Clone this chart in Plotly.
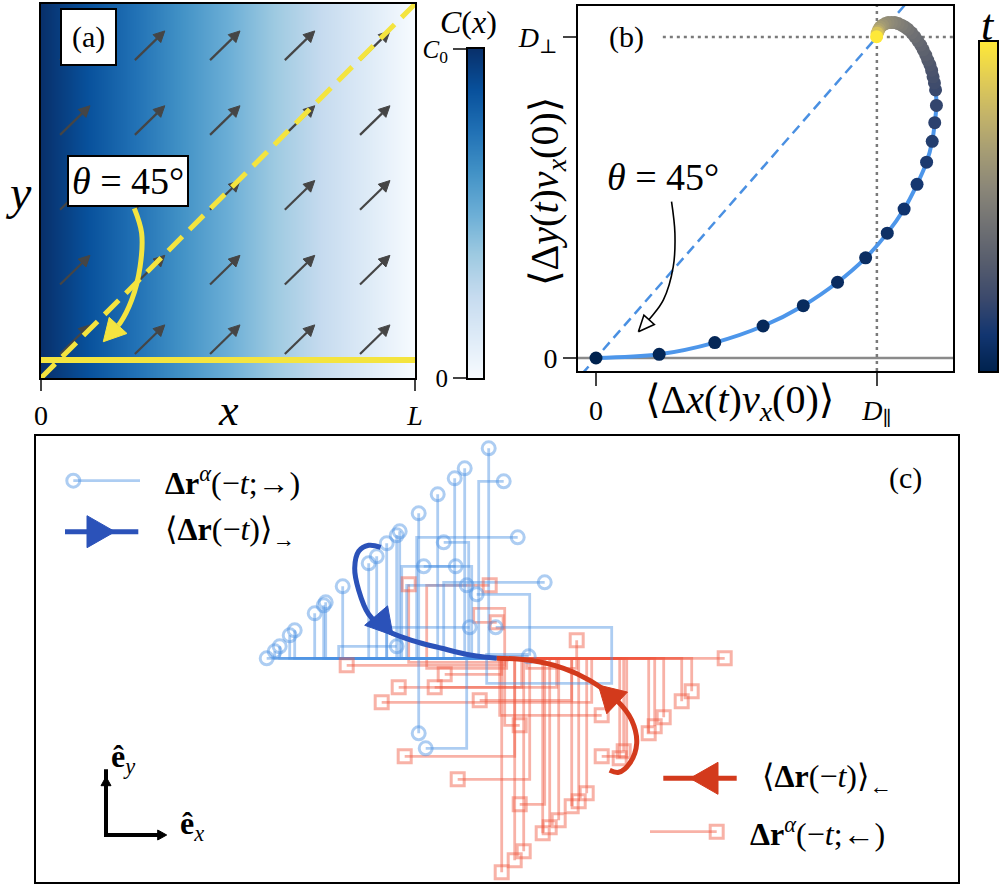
import math
import plotly.graph_objects as go

W, H = 1001, 887
FONT = "Liberation Serif, DejaVu Serif, serif"

# ----------------------------------------------------------------- data
# panel (a): concentration field C(x) = C0 (1 - x/L)
conc_x = [0.0, 1.0]
conc_c = [1.0, 0.0]
cbar_a_levels = [0.0, 1.0]
quiver_x = [0.051, 0.251, 0.452, 0.652, 0.853]
quiver_y = [0.850, 0.650, 0.450, 0.250, 0.064]
quiver_u = 0.080
quiver_v = 0.078
ref_line_y = 0.048
diag_x = [0.0, 1.0]
diag_y = [0.0, 1.0]
theta_a_x = [0.2495, 0.269, 0.265, 0.2425, 0.211, 0.1666]
theta_a_y = [0.4537, 0.388, 0.298, 0.2086, 0.146, 0.097]

# panel (b): correlation curve (units of D_par, D_perp), coloured by t
corr_x = [0.0, 0.225, 0.423, 0.595, 0.738, 0.860, 0.960, 1.037, 1.097, 1.143,
          1.177, 1.197, 1.206, 1.212, 1.209, 1.205, 1.200, 1.195, 1.189, 1.181,
          1.174, 1.165, 1.156, 1.146, 1.135, 1.124, 1.111, 1.100, 1.088, 1.076,
          1.064, 1.052, 1.040, 1.030, 1.020, 1.012, 1.007, 1.004, 1.001, 0.999]
corr_y = [0.0, 0.0115, 0.048, 0.0997, 0.163, 0.236, 0.312, 0.389, 0.464, 0.541,
          0.610, 0.675, 0.733, 0.787, 0.835, 0.857, 0.876, 0.896, 0.913, 0.928,
          0.944, 0.960, 0.975, 0.988, 1.001, 1.013, 1.024, 1.031, 1.037, 1.042,
          1.045, 1.045, 1.045, 1.042, 1.037, 1.031, 1.024, 1.017, 1.012, 1.001]
corr_t = [0.00, 0.02, 0.03, 0.04, 0.05, 0.06, 0.07, 0.08, 0.10, 0.12,
          0.14, 0.16, 0.18, 0.20, 0.22, 0.24, 0.26, 0.28, 0.30, 0.32,
          0.34, 0.36, 0.38, 0.40, 0.42, 0.44, 0.46, 0.48, 0.50, 0.52,
          0.54, 0.56, 0.58, 0.60, 0.63, 0.66, 0.70, 0.76, 0.85, 1.00]
cbar_b_levels = [0.0, 1.0]
theta_b_x = [0.269, 0.281, 0.275, 0.240, 0.198, 0.165]
theta_b_y = [0.487, 0.389, 0.284, 0.181, 0.129, 0.097]

# panel (c): backward trajectories (units of 10 px)
blue_tips = [(-23.0, 0.0), (-22.2, 0.7), (-21.7, 1.2), (-20.7, 2.3), (-20.2, 2.8),
             (-18.2, 4.5), (-17.3, 5.3), (-17.1, 5.6), (-15.4, 7.2), (-12.8, 9.5),
             (-12.0, 10.2), (-11.0, 11.5), (-10.0, 12.3), (-9.7, 12.7), (-7.8, 14.5),
             (-5.9, 16.4), (-4.2, 18.0), (-3.2, 19.0), (-0.8, 21.0)]
blue_walks = [
    [(0, 0), (-1.8, 0), (-1.8, 17.7), (0.7, 17.7)],
    [(0, 0), (-8.0, 0), (-8.0, 12.1), (2.1, 12.1)],
    [(0, 0), (-5.3, 0), (-5.3, 7.6), (4.8, 7.6)],
    [(0, 0), (-2.8, 0), (-2.8, 11.6), (-5.3, 11.6)],
    [(0, 0), (-2.5, 0), (-2.5, 9.2), (-7.3, 9.2)],
    [(0, 0), (-9.5, 0), (-9.5, 9.2), (-4.1, 9.2)],
    [(0, 0), (-9.0, 0), (-9.0, 7.3), (-3.0, 7.3)],
    [(0, 0), (-1.0, 0), (-1.0, 0.4), (3.3, 0.4), (3.3, 6.4), (-2.0, 6.4)],
    [(0, 0), (-11.0, 0), (-11.0, 3.1), (-2.7, 3.1)],
    [(0, 0), (-1.0, 0), (-1.0, -2.5), (11.5, -2.5), (11.5, 3.1), (-0.1, 3.1)],
    [(0, 0), (-15.8, 0), (-15.8, 1.2), (-10.0, 1.2)],
    [(0, 0), (-7.8, 0), (-7.8, -7.5)],
    [(0, 0), (-3.0, 0), (-3.0, -9.0), (-7.1, -9.0)],
    [(0, 0), (-2.0, 0), (-2.0, 0.2), (3.2, 0.2)],
]
red_tips = [(22.8, 0.0), (19.5, -3.3), (18.5, -4.3), (16.7, -5.9), (15.8, -6.8),
            (15.2, -7.5), (12.7, -9.3), (12.3, -10.0), (9.0, -13.5), (8.2, -14.3),
            (7.5, -14.8), (6.2, -16.2), (5.3, -16.9), (4.6, -17.5), (2.7, -19.3),
            (1.8, -20.2), (0.5, -21.4)]
red_walks = [
    [(0, 0), (0.8, 0), (0.8, -0.7), (-15.0, -0.7)],
    [(0, 0), (6.0, 0), (6.0, -2.9), (-9.8, -2.9)],
    [(0, 0), (9.5, 0), (9.5, -4.4), (-11.5, -4.4)],
    [(0, 0), (0.5, 0), (0.5, -1.6), (-5.2, -1.6)],
    [(0, 0), (2.5, 0), (2.5, -2.9), (-6.2, -2.9)],
    [(0, 0), (7.5, 0), (7.5, -4.2), (-1.7, -4.2)],
    [(0, 0), (0.8, 0), (0.8, -6.7), (2.3, -6.7)],
    [(0, 0), (1.8, 0), (1.8, -9.8), (-9.2, -9.8)],
    [(0, 0), (3.3, 0), (3.3, -12.1), (-3.9, -12.1)],
    [(0, 0), (4.8, 0), (4.8, -14.6), (2.3, -14.6)],
    [(0, 0), (13.0, 0), (13.0, -9.8), (10.5, -9.8)],
    [(0, 0), (0.3, 0), (0.3, -5.7), (10.5, -5.7)],
    [(0, 0), (3.0, 0), (3.0, -1.0), (8.0, -1.0), (8.0, 1.8)],
    [(0, 0), (0.5, 0), (0.5, -0.4), (-8.8, -0.4), (-8.8, 7.4)],
    [(0, 0), (1.0, 0), (1.0, -1.0), (-7.0, -1.0), (-7.0, 7.3), (-0.7, 7.3)],
    [(0, 0), (0.8, 0), (0.8, 5.0), (-2.3, 5.0), (-2.3, 3.6), (0.0, 3.6)],
]
blue_mean_x = [0.0, -2.5, -5.5, -8.5, -11.0, -12.8, -13.8, -14.2, -13.8, -12.8, -11.6]
blue_mean_y = [0.0, 0.3, 1.0, 1.8, 2.8, 4.4, 6.8, 9.0, 10.7, 11.3, 11.1]
red_mean_x = [11.3, 12.2, 13.3, 14.0, 13.5, 12.0, 9.3, 6.7, 3.3, 0.0]
red_mean_y = [-11.2, -11.4, -10.5, -8.5, -6.2, -4.2, -2.2, -1.0, -0.2, 0.0]

# ----------------------------------------------------------------- geometry
BOX_A = (41, 415, 4, 378)
BOX_ACB = (468, 483, 49, 378)
BOX_B = (578, 953, 6, 371)
BOX_BCB = (980, 997, 42, 371)
BOX_C = (36, 958, 436, 882)
RA_X, RA_Y = [0, 1], [0, 1]
RB_X, RB_Y = [-0.064, 1.271], [-0.0405, 1.0966]
RC_X, RC_Y = [-46.07, 46.13], [-22.37, 22.23]


def dom(box):
    return [box[0] / W, box[1] / W], [1 - box[3] / H, 1 - box[2] / H]


def scales(box, rx, ry):
    return (box[1] - box[0]) / (rx[1] - rx[0]), (box[3] - box[2]) / (ry[1] - ry[0])


SA = scales(BOX_A, RA_X, RA_Y)
SB = scales(BOX_B, RB_X, RB_Y)
SC = scales(BOX_C, RC_X, RC_Y)


def head(tx, ty, dx, dy, length, half, s):
    sx, sy = s
    px, py = dx * sx, dy * sy
    n = math.hypot(px, py)
    ux, uy = px / n, py / n
    bx, by = tx * sx - length * ux, ty * sy - length * uy
    vx, vy = -uy, ux
    xs = [tx, (bx + half * vx) / sx, (bx - half * vx) / sx, tx]
    ys = [ty, (by + half * vy) / sy, (by - half * vy) / sy, ty]
    return xs, ys


BLUES = [[0.0, '#f7fbff'], [0.125, '#deebf7'], [0.25, '#c6dbef'], [0.375, '#9ecae1'],
         [0.5, '#6baed6'], [0.625, '#4292c6'], [0.75, '#2171b5'], [0.875, '#08519c'],
         [1.0, '#08306b']]
YEL = '#f4e43f'

fig = go.Figure()
NOH = dict(showlegend=False, hoverinfo='skip')

# ----------------------------------------------------------------- panel (a)
fig.add_trace(go.Heatmap(x=conc_x, y=[0, 1], z=[conc_c, conc_c], colorscale=BLUES,
                         zmin=0, zmax=1, zsmooth='best', showscale=False,
                         xaxis='x', yaxis='y', hoverinfo='skip'))
qx, qy, hx, hy = [], [], [], []
for yv in quiver_y:
    for xv in quiver_x:
        tx, ty = xv + quiver_u, yv + quiver_v
        a, b = head(tx, ty, quiver_u, quiver_v, 11, 5.5, SA)
        qx += [xv, (a[1] + a[2]) / 2, None]
        qy += [yv, (b[1] + b[2]) / 2, None]
        hx += a + [None]
        hy += b + [None]
fig.add_trace(go.Scatter(x=qx, y=qy, mode='lines', line=dict(color='#454545', width=2.2),
                         xaxis='x', yaxis='y', **NOH))
fig.add_trace(go.Scatter(x=hx, y=hy, mode='lines', fill='toself', fillcolor='#454545',
                         line=dict(color='#454545', width=1), xaxis='x', yaxis='y', **NOH))
fig.add_trace(go.Scatter(x=RA_X, y=[ref_line_y, ref_line_y], mode='lines',
                         line=dict(color=YEL, width=6), xaxis='x', yaxis='y', **NOH))
fig.add_trace(go.Scatter(x=diag_x, y=diag_y, mode='lines',
                         line=dict(color=YEL, width=5, dash='20px,10px'), xaxis='x', yaxis='y', **NOH))
a, b = head(theta_a_x[-1], theta_a_y[-1], theta_a_x[-1] - theta_a_x[-2],
            theta_a_y[-1] - theta_a_y[-2], 22, 12, SA)
fig.add_trace(go.Scatter(x=theta_a_x[:-1] + [(a[1] + a[2]) / 2], y=theta_a_y[:-1] + [(b[1] + b[2]) / 2],
                         mode='lines', line=dict(color=YEL, width=5, shape='spline'),
                         xaxis='x', yaxis='y', **NOH))
fig.add_trace(go.Scatter(x=a, y=b, mode='lines', fill='toself', fillcolor=YEL,
                         line=dict(color=YEL, width=1), xaxis='x', yaxis='y', **NOH))

# colour bar of (a)
fig.add_trace(go.Heatmap(x=[0, 1], y=cbar_a_levels, z=[[v, v] for v in cbar_a_levels],
                         colorscale=BLUES, zmin=0, zmax=1, zsmooth='best', showscale=False,
                         xaxis='x2', yaxis='y2', hoverinfo='skip'))

# ----------------------------------------------------------------- panel (b)
fig.add_trace(go.Scatter(x=RB_X, y=[0, 0], mode='lines', line=dict(color='#8a8a8a', width=2.5),
                         xaxis='x3', yaxis='y3', **NOH))
fig.add_trace(go.Scatter(x=[1, 1], y=RB_Y, mode='lines',
                         line=dict(color='#7a7a7a', width=2.5, dash='3px,4px'), xaxis='x3', yaxis='y3', **NOH))
fig.add_trace(go.Scatter(x=[0.238, RB_X[1]], y=[1, 1], mode='lines',
                         line=dict(color='#7a7a7a', width=2.5, dash='3px,4px'), xaxis='x3', yaxis='y3', **NOH))
fig.add_trace(go.Scatter(x=[-0.2, 1.2], y=[-0.2, 1.2], mode='lines',
                         line=dict(color='#4a90e2', width=2.5, dash='10px,6px'), xaxis='x3', yaxis='y3', **NOH))
fig.add_trace(go.Scatter(x=corr_x, y=corr_y, mode='lines',
                         line=dict(color='#4d96ea', width=4, shape='spline'), xaxis='x3', yaxis='y3', **NOH))
fig.add_trace(go.Scatter(x=corr_x, y=corr_y, mode='markers',
                         marker=dict(size=13, color=corr_t, colorscale='Cividis', cmin=0, cmax=1),
                         xaxis='x3', yaxis='y3', **NOH))
a, b = head(theta_b_x[-1] - 0.014, theta_b_y[-1] - 0.015, theta_b_x[-1] - theta_b_x[-2],
            theta_b_y[-1] - theta_b_y[-2], 16, 7, SB)
fig.add_trace(go.Scatter(x=theta_b_x, y=theta_b_y, mode='lines',
                         line=dict(color='black', width=1.6, shape='spline'), xaxis='x3', yaxis='y3', **NOH))
fig.add_trace(go.Scatter(x=a, y=b, mode='lines', fill='toself', fillcolor='white',
                         line=dict(color='black', width=1.6), xaxis='x3', yaxis='y3', **NOH))

# colour bar of (b)
fig.add_trace(go.Heatmap(x=[0, 1], y=cbar_b_levels, z=[[v, v] for v in cbar_b_levels],
                         colorscale='Cividis', zmin=0, zmax=1, zsmooth='best', showscale=False,
                         xaxis='x4', yaxis='y4', hoverinfo='skip'))

# ----------------------------------------------------------------- panel (c)
BW = 'rgba(74,144,226,0.45)'
RW = 'rgba(240,85,60,0.45)'
all_blue = [[(0, 0), (t[0], 0), t] for t in blue_tips] + blue_walks
all_red = [[(0, 0), (t[0], 0), t] for t in red_tips] + red_walks
for walks, col in ((all_red, RW), (all_blue, BW)):
    for w in walks:
        fig.add_trace(go.Scatter(x=[p[0] for p in w], y=[p[1] for p in w], mode='lines',
                                 line=dict(color=col, width=2.8), xaxis='x5', yaxis='y5', **NOH))
fig.add_trace(go.Scatter(x=[w[-1][0] for w in all_red], y=[w[-1][1] for w in all_red], mode='markers',
                         marker=dict(symbol='square-open', size=13, color=RW, line=dict(width=3, color=RW)),
                         xaxis='x5', yaxis='y5', **NOH))
fig.add_trace(go.Scatter(x=[w[-1][0] for w in all_blue], y=[w[-1][1] for w in all_blue], mode='markers',
                         marker=dict(symbol='circle-open', size=13, color=BW, line=dict(width=3, color=BW)),
                         xaxis='x5', yaxis='y5', **NOH))

BM, RM = '#2b52b9', '#d33a1c'
fig.add_trace(go.Scatter(x=blue_mean_x, y=blue_mean_y, mode='lines',
                         line=dict(color=BM, width=5, shape='spline'), xaxis='x5', yaxis='y5', **NOH))
fig.add_trace(go.Scatter(x=red_mean_x, y=red_mean_y, mode='lines',
                         line=dict(color=RM, width=5, shape='spline'), xaxis='x5', yaxis='y5', **NOH))
a, b = head(-13.2, 3.3, -2.3, -0.42, 26, 15, SC)
fig.add_trace(go.Scatter(x=a, y=b, mode='lines', fill='toself', fillcolor=BM, line=dict(color=BM, width=1),
                         xaxis='x5', yaxis='y5', **NOH))
a, b = head(10.16, -2.67, -1.92, 1.83, 26, 15, SC)
fig.add_trace(go.Scatter(x=a, y=b, mode='lines', fill='toself', fillcolor=RM, line=dict(color=RM, width=1),
                         xaxis='x5', yaxis='y5', **NOH))

# legend glyphs in (c)
fig.add_trace(go.Scatter(x=[-42.34, -35.67], y=[17.76, 17.76], mode='lines', line=dict(color=BW, width=2.8),
                         xaxis='x5', yaxis='y5', **NOH))
fig.add_trace(go.Scatter(x=[-42.34], y=[17.76], mode='markers',
                         marker=dict(symbol='circle-open', size=13, color=BW, line=dict(width=3, color=BW)),
                         xaxis='x5', yaxis='y5', **NOH))
fig.add_trace(go.Scatter(x=[-43.17, -35.84], y=[12.66, 12.66], mode='lines', line=dict(color=BM, width=5),
                         xaxis='x5', yaxis='y5', **NOH))
a, b = head(-38.17, 12.66, 1, 0, 28, 16, SC)
fig.add_trace(go.Scatter(x=a, y=b, mode='lines', fill='toself', fillcolor=BM, line=dict(color=BM, width=1),
                         xaxis='x5', yaxis='y5', **NOH))
fig.add_trace(go.Scatter(x=[16.66, 24.0], y=[-12.0, -12.0], mode='lines', line=dict(color=RM, width=5),
                         xaxis='x5', yaxis='y5', **NOH))
a, b = head(19.33, -12.0, -1, 0, 28, 16, SC)
fig.add_trace(go.Scatter(x=a, y=b, mode='lines', fill='toself', fillcolor=RM, line=dict(color=RM, width=1),
                         xaxis='x5', yaxis='y5', **NOH))
fig.add_trace(go.Scatter(x=[15.33, 22.0], y=[-17.34, -17.34], mode='lines', line=dict(color=RW, width=2.8),
                         xaxis='x5', yaxis='y5', **NOH))
fig.add_trace(go.Scatter(x=[22.0], y=[-17.34], mode='markers',
                         marker=dict(symbol='square-open', size=13, color=RW, line=dict(width=3, color=RW)),
                         xaxis='x5', yaxis='y5', **NOH))
# unit vectors
fig.add_trace(go.Scatter(x=[-39.07, -39.07, -33.8], y=[-11.9 + 0.8, -17.67, -17.67], mode='lines',
                         line=dict(color='black', width=4), xaxis='x5', yaxis='y5', **NOH))
for tip, d in (((-39.07, -11.84), (0, 1)), ((-33.0, -17.67), (1, 0))):
    a, b = head(tip[0], tip[1], d[0], d[1], 9, 5, SC)
    fig.add_trace(go.Scatter(x=a, y=b, mode='lines', fill='toself', fillcolor='black',
                             line=dict(color='black', width=1), xaxis='x5', yaxis='y5', **NOH))

# ----------------------------------------------------------------- axes
line = dict(showline=True, mirror=True, linecolor='black', linewidth=2, showgrid=False,
            zeroline=False)
tickf = dict(family=FONT, size=28, color='black')
xa, ya = dom(BOX_A)
xacb, yacb = dom(BOX_ACB)
xb, yb = dom(BOX_B)
xbcb, ybcb = dom(BOX_BCB)
xc, yc = dom(BOX_C)
fig.update_layout(
    width=W, height=H, margin=dict(l=0, r=0, t=0, b=0, autoexpand=False),
    paper_bgcolor='white', plot_bgcolor='white', showlegend=False,
    font=dict(family=FONT, color='black'),
    xaxis=dict(domain=xa, range=RA_X, anchor='y', ticks='outside', ticklen=11, tickwidth=2,
               tickvals=[0, 1], ticktext=['0', '<i>L</i>'], tickfont=tickf, **line),
    yaxis=dict(domain=ya, range=RA_Y, anchor='x', showticklabels=False, ticks='', **line),
    xaxis2=dict(domain=xacb, range=[0, 1], anchor='y2', showticklabels=False, ticks='', **line),
    yaxis2=dict(domain=yacb, range=[0, 1], anchor='x2', ticks='outside', ticklen=13, tickwidth=2,
                tickvals=[0, 1], ticktext=['0', '<i>C</i><sub>0</sub>'],
                tickfont=dict(family=FONT, size=25, color='black'), **line),
    xaxis3=dict(domain=xb, range=RB_X, anchor='y3', ticks='outside', ticklen=13, tickwidth=2,
                tickvals=[0, 1], ticktext=['0', '<i>D</i><sub>∥</sub>'], tickfont=tickf, **line),
    yaxis3=dict(domain=yb, range=RB_Y, anchor='x3', ticks='outside', ticklen=13, tickwidth=2,
                tickvals=[0, 1], ticktext=['0', '<i>D</i><sub>⊥</sub>'], tickfont=tickf, **line),
    xaxis4=dict(domain=xbcb, range=[0, 1], anchor='y4', showticklabels=False, ticks='', **line),
    yaxis4=dict(domain=ybcb, range=[0, 1], anchor='x4', showticklabels=False, ticks='', **line),
    xaxis5=dict(domain=xc, range=RC_X, anchor='y5', showticklabels=False, ticks='', **line),
    yaxis5=dict(domain=yc, range=RC_Y, anchor='x5', showticklabels=False, ticks='', **line),
)


def txt(x, y, s, size, xref='paper', yref='paper', xanchor='center', **kw):
    fig.add_annotation(x=x, y=y, xref=xref, yref=yref, text=s, showarrow=False,
                       xanchor=xanchor, yanchor='middle',
                       font=dict(family=FONT, size=size, color='black'), **kw)


box = dict(bgcolor='white', bordercolor='black', borderwidth=2)
txt(0.1257, 0.912, '(a)', 30, 'x', 'y', borderpad=10, **box)
txt(0.2326, 0.5267, '<i>θ</i> = 45°', 38, 'x', 'y', borderpad=3, **box)
txt(18 / W, 1 - 192 / H, '<i>y</i>', 48)
txt(228 / W, 1 - 410 / H, '<i>x</i>', 44)
txt(468 / W, 1 - 22 / H, '<i>C</i>(<i>x</i>)', 32)
txt(988 / W, 1 - 25 / H, '<i>t</i>', 44)
txt(0.110, 1.0, '(b)', 30, 'x3', 'y3', bgcolor='white', borderpad=2)
txt(0.238, 0.564, '<i>θ</i> = 45°', 38, 'x3', 'y3')
txt(547 / W, 1 - 192 / H, '⟨Δ<i>y</i>(<i>t</i>)<i>v</i><sub><i>x</i></sub>(0)⟩', 40, textangle=-90)
txt(739 / W, 1 - 402 / H, '⟨Δ<i>x</i>(<i>t</i>)<i>v</i><sub><i>x</i></sub>(0)⟩', 40)
txt(40.83, 18.03, '(c)', 30, 'x5', 'y5')
txt(-33.37, 17.76, '<b>Δr</b><sup><i>α</i></sup>(−<i>t</i>;→)', 32, 'x5', 'y5', xanchor='left')
txt(-33.37, 12.66, '⟨<b>Δr</b>(−<i>t</i>)⟩<sub>→</sub>', 32, 'x5', 'y5', xanchor='left')
txt(26.33, -12.0, '⟨<b>Δr</b>(−<i>t</i>)⟩<sub>←</sub>', 32, 'x5', 'y5', xanchor='left')
txt(25.13, -17.34, '<b>Δr</b><sup><i>α</i></sup>(−<i>t</i>;←)', 32, 'x5', 'y5', xanchor='left')
txt(-37.37, -9.97, '<b>ê</b><sub><i>y</i></sub>', 32, 'x5', 'y5')
txt(-30.47, -16.67, '<b>ê</b><sub><i>x</i></sub>', 32, 'x5', 'y5')

fig.write_html("out.html", config={'displayModeBar': False},
               post_script="document.body.style.margin='0';")
